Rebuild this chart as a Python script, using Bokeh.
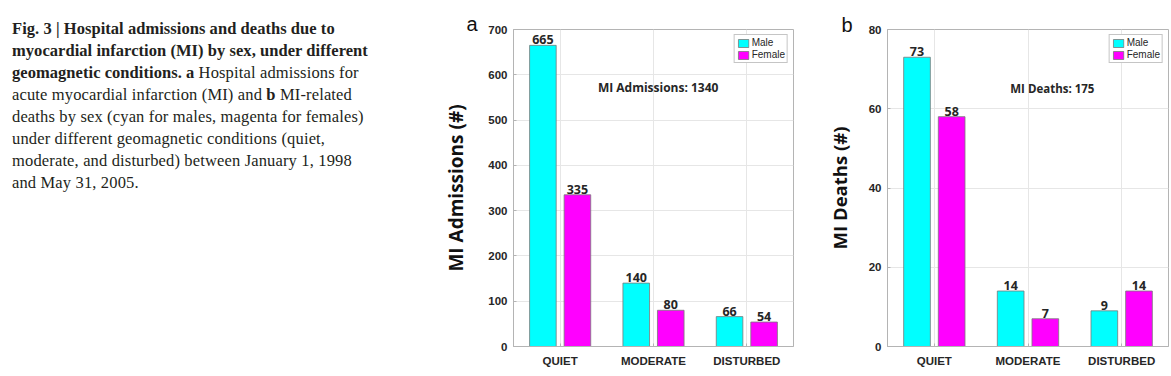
from bokeh.plotting import figure
from bokeh.models import (FactorRange, Label, Legend, LegendItem, ColumnDataSource,
                          FixedTicker, Div)
from bokeh.transform import dodge
from bokeh.layouts import row
from bokeh.embed import file_html
from bokeh.resources import INLINE
from bokeh.core.properties import value

# ---------------- data ----------------
categories = ["QUIET", "MODERATE", "DISTURBED"]
series_names = ["Male", "Female"]
admissions_male = [665, 140, 66]
admissions_female = [335, 80, 54]
deaths_male = [73, 14, 9]
deaths_female = [58, 7, 14]
admissions_ticks = [0, 100, 200, 300, 400, 500, 600, 700]
deaths_ticks = [0, 20, 40, 60, 80]
admissions_total = 1340
deaths_total = 175

MALE_C = "#00FFFF"
FEMALE_C = "#FF00FF"
FRAME_C = "#b4b4b4"
GRID_C = "#e6e6e6"
TXT_C = "#262626"


def make_panel(letter, male, female, ticks, ylabel, note, note_x, note_y,
               width, left, right, ylabel_standoff, letter_dx, letter_dy, note_size,
               ylabel_size):
    ymax = ticks[-1]
    p = figure(x_range=FactorRange(factors=categories), y_range=(0, ymax),
               width=width, height=376, min_border_left=left, min_border_right=right,
               min_border_top=29, min_border_bottom=30,
               output_backend="svg", toolbar_location=None)
    p.background_fill_color = "white"
    p.border_fill_color = "white"
    p.outline_line_color = FRAME_C
    p.outline_line_width = 1

    # panel letter as the title
    p.title.text = letter
    p.title.align = "left"
    p.title.offset = letter_dx
    p.title.standoff = letter_dy
    p.title.vertical_align = "bottom"
    p.title.text_font = "Liberation Sans"
    p.title.text_font_style = "normal"
    p.title.text_font_size = "20px"
    p.title.text_color = "#111111"

    src = ColumnDataSource(dict(cat=categories, male=male, female=female,
                                male_txt=[str(v) for v in male],
                                female_txt=[str(v) for v in female]))
    bw = 0.285
    off = 0.185
    r1 = p.vbar(x=dodge("cat", -off, range=p.x_range), top="male", width=bw, bottom=0,
                source=src, fill_color=MALE_C, line_color="#7a7a7a", line_width=0.8)
    r2 = p.vbar(x=dodge("cat", off, range=p.x_range), top="female", width=bw, bottom=0,
                source=src, fill_color=FEMALE_C, line_color="#7a7a7a", line_width=0.8)
    for col, dx in (("male", -off), ("female", off)):
        p.text(x=dodge("cat", dx, range=p.x_range), y=col, text=col + "_txt", source=src,
               text_align="center", text_baseline="bottom", y_offset=-1,
               text_font=value("Open Sans"), text_font_style="bold",
               text_font_size="12.5px", text_color=TXT_C)

    # axes
    p.yaxis.ticker = FixedTicker(ticks=ticks)
    for ax in (p.xaxis[0], p.yaxis[0]):
        ax.axis_line_color = FRAME_C
        ax.major_tick_line_color = FRAME_C
        ax.major_tick_in = 3
        ax.major_tick_out = 0
        ax.minor_tick_line_color = None
        ax.major_label_text_font = "Liberation Sans"
        ax.major_label_text_font_style = "bold"
        ax.major_label_text_font_size = "11.5px"
        ax.major_label_text_color = TXT_C
    p.xaxis.major_label_standoff = 8
    p.yaxis.major_label_standoff = 6
    p.yaxis.axis_label = ylabel
    p.yaxis.axis_label_text_font = "Open Sans"
    p.yaxis.axis_label_text_font_style = "bold"
    p.yaxis.axis_label_text_font_size = ylabel_size
    p.yaxis.axis_label_text_color = "#111111"
    p.yaxis.axis_label_standoff = ylabel_standoff

    p.xgrid.grid_line_color = GRID_C
    p.ygrid.grid_line_color = GRID_C

    # legend
    legend = Legend(items=[LegendItem(label=series_names[0], renderers=[r1]),
                           LegendItem(label=series_names[1], renderers=[r2])],
                    location="top_right")
    legend.margin = 5
    legend.padding = 2
    legend.spacing = 1
    legend.glyph_width = 13
    legend.glyph_height = 10
    legend.label_height = 10
    legend.label_standoff = 2
    legend.label_text_font = "Liberation Sans"
    legend.label_text_font_size = "10px"
    legend.label_text_color = TXT_C
    legend.border_line_color = "#8c8c8c"
    legend.border_line_width = 1
    legend.background_fill_color = "white"
    legend.background_fill_alpha = 1
    p.add_layout(legend)

    # summary text
    p.add_layout(Label(x=note_x, y=note_y, text=note, text_align="center",
                       text_baseline="middle", text_font="Open Sans",
                       text_font_style="bold", text_font_size=note_size,
                       text_color=TXT_C))
    return p


pa = make_panel("a", admissions_male, admissions_female, admissions_ticks,
                "MI Admissions (#)", f"MI Admissions: {admissions_total}", 1.55, 572,
                width=380, left=72, right=27, ylabel_standoff=16,
                letter_dx=-47, letter_dy=-10, note_size="12px", ylabel_size="19px")
pb = make_panel("b", deaths_male, deaths_female, deaths_ticks,
                "MI Deaths (#)", f"MI Deaths: {deaths_total}", 1.76, 65,
                width=351, left=67, right=3, ylabel_standoff=14,
                letter_dx=-46, letter_dy=-13, note_size="11.5px", ylabel_size="18.5px")

B = '<b style="letter-spacing:0.05px;">'
caption_html = (
    '<div style="font-family:\'Liberation Serif\',serif;font-size:16.5px;line-height:22px;'
    'letter-spacing:0.15px;color:#231f20;white-space:nowrap;padding:18px 0 0 12px;">'
    + B + 'Fig. 3 | Hospital admissions and deaths due to</b><br>'
    + B + 'myocardial infarction (MI) by sex, under different</b><br>'
    + B + 'geomagnetic conditions. a</b> Hospital admissions for<br>'
    'acute myocardial infarction (MI) and <b>b</b> MI-related<br>'
    'deaths by sex (cyan for males, magenta for females)<br>'
    'under different geomagnetic conditions (quiet,<br>'
    'moderate, and disturbed) between January 1, 1998<br>'
    'and May 31, 2005.'
    '</div>'
)
caption = Div(text=caption_html, width=440, height=376, margin=0)

layout = row(caption, pa, pb, spacing=0)
open("out.html", "w").write(file_html(layout, INLINE))
